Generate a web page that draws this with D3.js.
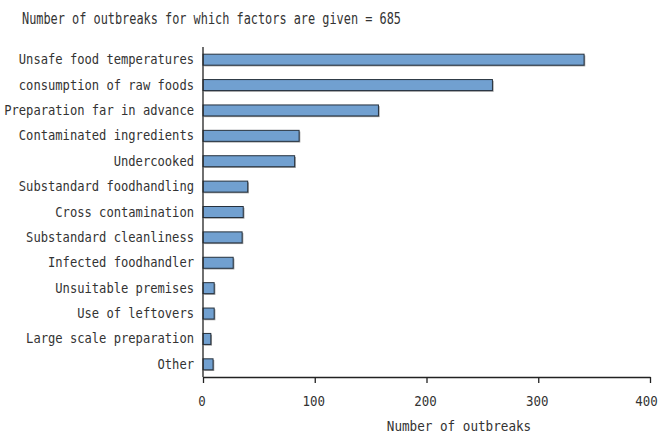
<!DOCTYPE html>
<html><head><meta charset="utf-8">
<script src="https://cdn.jsdelivr.net/npm/d3@7"></script>
<style>
html,body{margin:0;padding:0;background:#fff;}
text{font-family:"DejaVu Sans Mono",monospace;fill:#333;}
</style></head>
<body><svg id="c" width="661" height="434"></svg>
<script>
const categories = ["Unsafe food temperatures","consumption of raw foods","Preparation far in advance","Contaminated ingredients","Undercooked","Substandard foodhandling","Cross contamination","Substandard cleanliness","Infected foodhandler","Unsuitable premises","Use of leftovers","Large scale preparation","Other"];
const values = [341, 259, 157, 86, 82, 40, 36, 35, 27, 10, 10, 7, 9];
const xTicks = [0, 100, 200, 300, 400];
const titleText = "Number of outbreaks for which factors are given = 685";
const xLabel = "Number of outbreaks";

const svg = d3.select("#c");
const m = {left:203, right:650, top:47, bottom:377};
const x = d3.scaleLinear().domain([0,400]).range([m.left, m.right]);
const y = d3.scaleBand().domain(categories).range([m.top, m.bottom]).paddingInner(0.567).paddingOuter(0.283);

// title
svg.append("text").attr("x",22).attr("y",24).attr("font-size",15)
  .attr("textLength", titleText.length*7.15).attr("lengthAdjust","spacingAndGlyphs").text(titleText);

// bars: shadow then bar
const data = categories.map((c,i)=>({c, v:values[i]}));
svg.append("g").selectAll("rect").data(data).join("rect")
  .attr("x", x(0)+1.2).attr("y", d=>y(d.c)+1.2)
  .attr("width", d=>x(d.v)-x(0)).attr("height", y.bandwidth())
  .attr("fill","#9a9a9a");
svg.append("g").selectAll("rect").data(data).join("rect")
  .attr("x", x(0)).attr("y", d=>y(d.c))
  .attr("width", d=>x(d.v)-x(0)).attr("height", y.bandwidth())
  .attr("fill","#71a0d0").attr("stroke","#26313d").attr("stroke-width",1);

// y labels
svg.append("g").selectAll("text").data(categories).join("text")
  .attr("x",194).attr("y", d=>y(d)+y.bandwidth()/2+4.5)
  .attr("text-anchor","end").attr("font-size",14)
  .attr("textLength", d=>d.length*7.3).attr("lengthAdjust","spacingAndGlyphs")
  .text(d=>d);

// y axis line
svg.append("line").attr("x1",m.left).attr("x2",m.left).attr("y1",m.top).attr("y2",m.bottom)
  .attr("stroke","#222").attr("stroke-width",1.3);

// x axis
const xa = svg.append("g").attr("transform",`translate(0,${m.bottom})`)
  .call(d3.axisBottom(x).tickValues(xTicks).tickSize(6).tickSizeOuter(0).tickPadding(13));
xa.attr("font-size",14).attr("font-family",null);
xa.select(".domain").attr("stroke","#222").attr("stroke-width",1.3);
xa.selectAll(".tick line").attr("stroke","#222").attr("stroke-width",1.3);
xa.selectAll(".tick text").attr("font-size",14)
  .attr("fill","#333").attr("dx",d=>d===400?-4:-1.5)
  .attr("textLength", d=>String(d).length*7.5).attr("lengthAdjust","spacingAndGlyphs");

svg.append("text").attr("x",459).attr("y",431).attr("text-anchor","middle").attr("font-size",14)
  .attr("textLength", xLabel.length*7.6).attr("lengthAdjust","spacingAndGlyphs").text(xLabel);
</script></body></html>
